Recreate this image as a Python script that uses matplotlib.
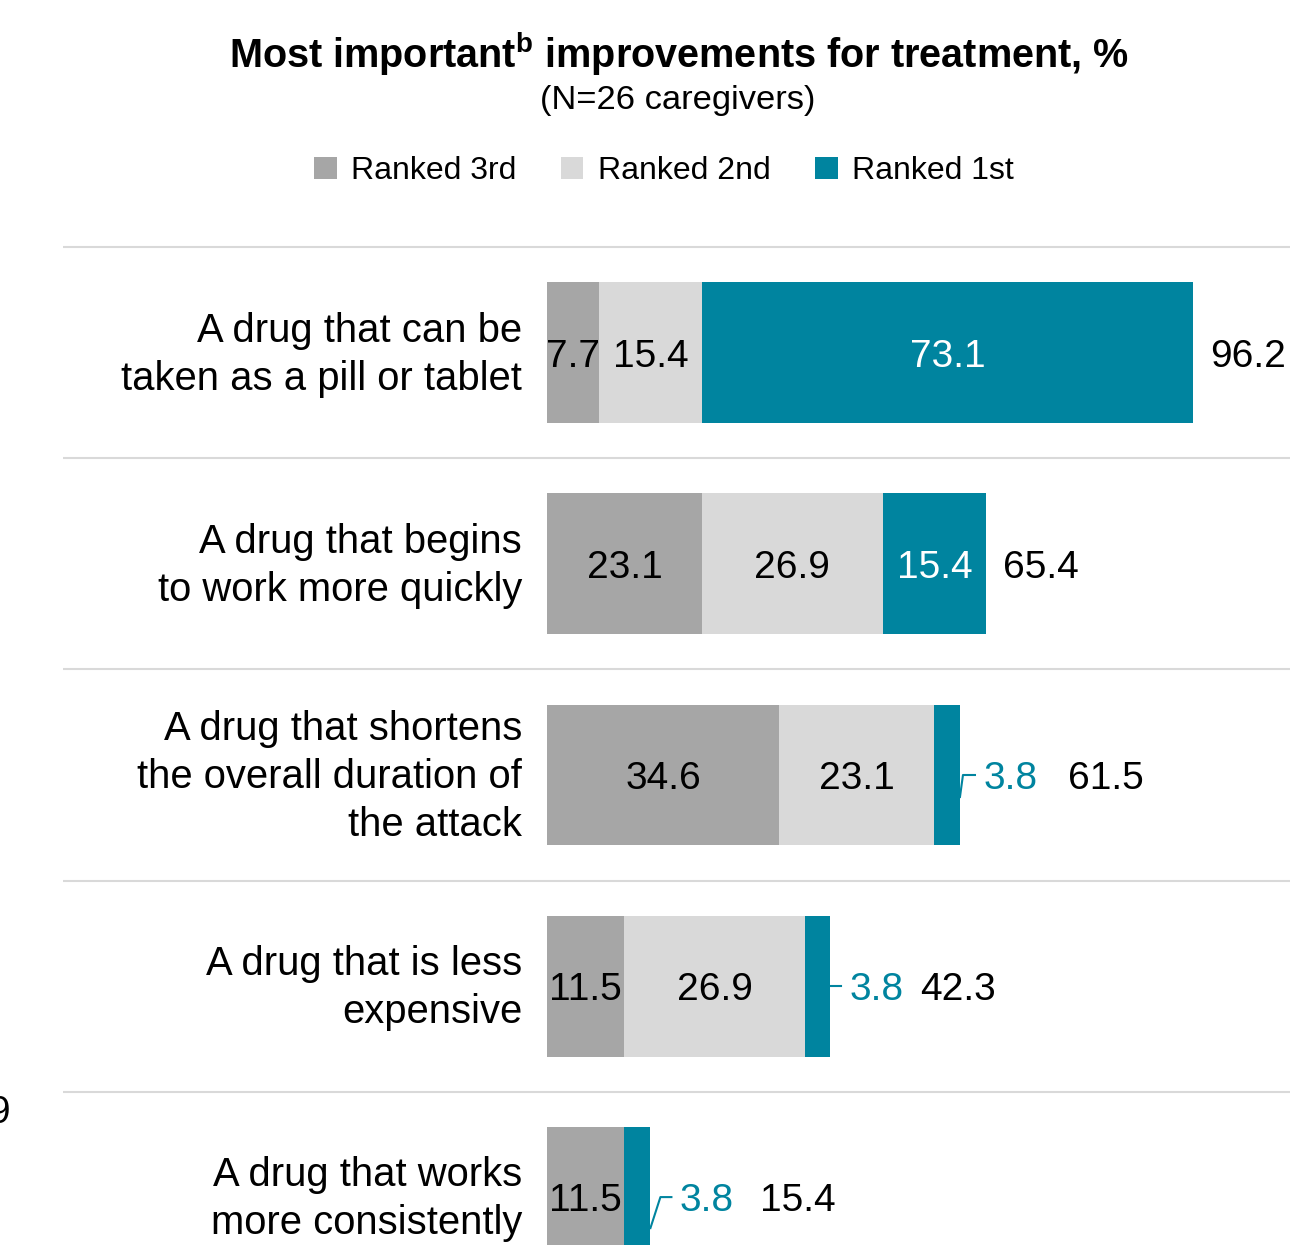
import numpy as np
import matplotlib
matplotlib.use('Agg')
import matplotlib.pyplot as plt
from matplotlib.transforms import offset_copy

plt.rcParams['font.family'] = ['Liberation Sans', 'DejaVu Sans']
plt.rcParams['mathtext.fontset'] = 'custom'
plt.rcParams['mathtext.rm'] = 'Liberation Sans'
plt.rcParams['mathtext.bf'] = 'Liberation Sans:bold'

# data
categories = ['A drug that can be\ntaken as a pill or tablet',
              'A drug that begins\nto work more quickly',
              'A drug that shortens\nthe overall duration of\nthe attack',
              'A drug that is less\nexpensive',
              'A drug that works\nmore consistently']
ranked_3rd = [7.7, 23.1, 34.6, 11.5, 11.5]
ranked_2nd = [15.4, 26.9, 23.1, 26.9, 0.0]
ranked_1st = [73.1, 15.4, 3.8, 3.8, 3.8]
totals = [96.2, 65.4, 61.5, 42.3, 15.4]
series_names = ['Ranked 3rd', 'Ranked 2nd', 'Ranked 1st']

c3, c2, c1 = '#A6A6A6', '#D9D9D9', '#00849F'

fig = plt.figure(figsize=(13.15, 12.45), dpi=100)
W, H = 1315, 1245
ax = fig.add_axes([63 / W, 0, (1290 - 63) / W, (H - 244) / H])

y = np.arange(len(categories))
h = 0.668
left = np.zeros(len(categories))
bars = []
for vals, col in [(ranked_3rd, c3), (ranked_2nd, c2), (ranked_1st, c1)]:
    b = ax.barh(y, vals, left=left, height=h, color=col, edgecolor='none')
    bars.append(b)
    left = left + np.array(vals)

ax.set_xlim(-72.08, 110.65)
ax.set_ylim(4.227, -0.516)
ax.axis('off')

for i in range(len(categories)):
    ax.axhline(i - 0.5, color='#D9D9D9', lw=1.5, zorder=0)

fs = 28
# category labels
for i, cat in enumerate(categories):
    ax.text(-3.72, i + 0.01, cat, ha='right', va='center', fontsize=28.8,
            linespacing=1.34)

# inside labels
for i in range(len(categories)):
    x0 = 0
    for vals, col in [(ranked_3rd, c3), (ranked_2nd, c2), (ranked_1st, c1)]:
        v = vals[i]
        small_teal = (col == c1 and v < 5)
        if v > 0 and not small_teal:
            tc = 'white' if col == c1 else 'black'
            ax.text(x0 + v / 2, i, f'{v:.1f}', ha='center', va='center_baseline',
                    fontsize=fs, color=tc)
        x0 += v

# small teal labels with leader lines (pixel offsets from bar end)
leaders = {2: ([(0, -22), (3, 0), (15, 0)], 24, 108),
           3: ([(0, 0), (10, 0)], 19, 89),
           4: ([(0, -31), (10, 0), (21, 0)], 29, 110)}
for i in range(len(categories)):
    end = totals[i]
    if i in leaders:
        pts, lab_dx, tot_dx = leaders[i]
        xs, ys = [], []
        for dx, dy in pts:
            tr = offset_copy(ax.transData, fig=fig, x=dx, y=dy, units='dots')
            p = tr.transform((end, i))
            xs.append(p[0]); ys.append(p[1])
        ax.plot(xs, ys, color=c1, lw=1.5, transform=None, clip_on=False)
        ax.annotate(f'{ranked_1st[i]:.1f}', (end, i), xytext=(lab_dx, 0),
                    textcoords='offset pixels', ha='left', va='center_baseline',
                    fontsize=fs, color=c1)
    else:
        tot_dx = 17
    ax.annotate(f'{totals[i]:.1f}', (end, i), xytext=(tot_dx, 0),
                textcoords='offset pixels', ha='left', va='center_baseline',
                fontsize=fs, color='black')

# title
fig.text(679 / W, 1 - 54 / H,
         r'Most important$^{\mathbf{b}}$ improvements for treatment, %',
         ha='center', va='center', fontsize=28.5, fontweight='bold')
fig.text(678 / W, 1 - 101 / H, '(N=26 caregivers)', ha='center', va='center',
         fontsize=24.8)

fig.legend([bars[0], bars[1], bars[2]], series_names, loc='center',
           bbox_to_anchor=(664 / W, 1 - 171 / H), ncol=3, frameon=False,
           fontsize=23, handlelength=0.7, handleheight=0.7,
           handletextpad=0.45, columnspacing=1.4)

# stray cut-off glyph at left edge
fig.text(10 / W, 1 - 1113 / H, '9', ha='right', va='center', fontsize=fs)

fig.savefig('out.png', dpi=100)
